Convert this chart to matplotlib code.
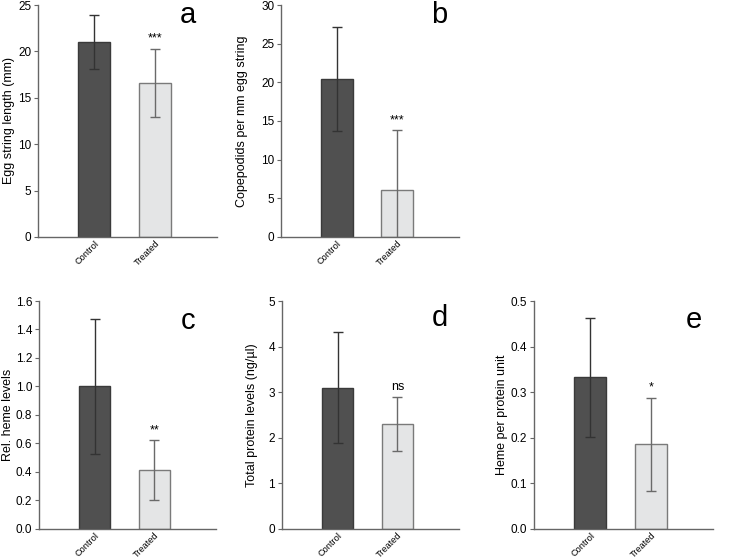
import matplotlib.pyplot as plt
import numpy as np

groups = ['Control', 'Treated']

# mean values and error (SD)
egg_len = [21.0, 16.6]
egg_len_err = [2.95, 3.65]
copepodids = [20.4, 6.1]
copepodids_err = [6.7, 7.7]
heme = [1.0, 0.41]
heme_err = [0.475, 0.21]
protein = [3.1, 2.3]
protein_err = [1.22, 0.59]
heme_per_prot = [0.332, 0.185]
heme_per_prot_err = [0.13, 0.102]

signif = ['***', '***', '**', 'ns', '*']
ylabels = ['Egg string length (mm)', 'Copepodids per mm egg string',
           'Rel. heme levels', 'Total protein levels (ng/\u00b5l)',
           'Heme per protein unit']
letters = ['a', 'b', 'c', 'd', 'e']
ylims = [25, 30, 1.6, 5, 0.5]
ysteps = [5, 5, 0.2, 1, 0.1]
yfmt = ['%d', '%d', '%.1f', '%d', '%.1f']

means = [egg_len, copepodids, heme, protein, heme_per_prot]
errs = [egg_len_err, copepodids_err, heme_err, protein_err, heme_per_prot_err]

plt.rcParams['font.family'] = ['Liberation Sans', 'DejaVu Sans']

fig = plt.figure(figsize=(7.5, 5.6), dpi=100)

# axes boxes [left, bottom, width, height] in figure fraction
boxes = [
    [0.051, 0.577, 0.238, 0.414],
    [0.375, 0.577, 0.237, 0.414],
    [0.052, 0.056, 0.236, 0.4065],
    [0.376, 0.056, 0.236, 0.4065],
    [0.712, 0.056, 0.239, 0.4065],
]
letter_pos = [(0.84, 0.955), (0.89, 0.955), (0.84, 0.91), (0.89, 0.926), (0.89, 0.918)]
ylabel_x = [-0.128, -0.185, -0.142, -0.136, -0.145]

bar_cols = ['#505050', '#e4e5e6']
edge_cols = ['#3a3a3a', '#7a7a7a']
err_cols = ['#333333', '#6a6a6a']
axis_col = '#666666'

x = np.arange(len(groups))
for i in range(5):
    ax = fig.add_axes(boxes[i])
    for j in range(len(groups)):
        ax.bar(x[j], means[i][j], width=0.53, color=bar_cols[j],
               edgecolor=edge_cols[j], linewidth=1.0, zorder=2)
        ax.errorbar(x[j], means[i][j], yerr=errs[i][j], fmt='none',
                    ecolor=err_cols[j], elinewidth=1.0, capsize=3.3,
                    capthick=1.0, zorder=3)
    ax.set_xlim(-0.93, 2.03)
    ax.set_ylim(0, ylims[i])
    ax.set_yticks(np.arange(0, ylims[i] + ysteps[i] / 2, ysteps[i]))
    ax.yaxis.set_major_formatter(plt.FormatStrFormatter(yfmt[i]))
    ax.set_xticks(x)
    ax.set_xticklabels(groups, rotation=45, ha='right', fontsize=6.6,
                       rotation_mode='anchor')
    ax.tick_params(axis='x', length=0, pad=1.5)
    ax.tick_params(axis='y', labelsize=8.5, length=3, color=axis_col,
                   direction='out', pad=2)
    for s in ['top', 'right']:
        ax.spines[s].set_visible(False)
    for s in ['left', 'bottom']:
        ax.spines[s].set_color(axis_col)
        ax.spines[s].set_linewidth(1.0)
    ax.set_ylabel(ylabels[i], fontsize=9)
    ax.yaxis.set_label_coords(ylabel_x[i], 0.5)
    ax.text(letter_pos[i][0], letter_pos[i][1], letters[i],
            transform=ax.transAxes, ha='center', va='center', fontsize=21)
    top = means[i][1] + errs[i][1]
    ax.annotate(signif[i], (x[1], top), xytext=(0, 3),
                textcoords='offset points', ha='center', va='bottom',
                fontsize=9)

fig.savefig('out.png', dpi=100)
